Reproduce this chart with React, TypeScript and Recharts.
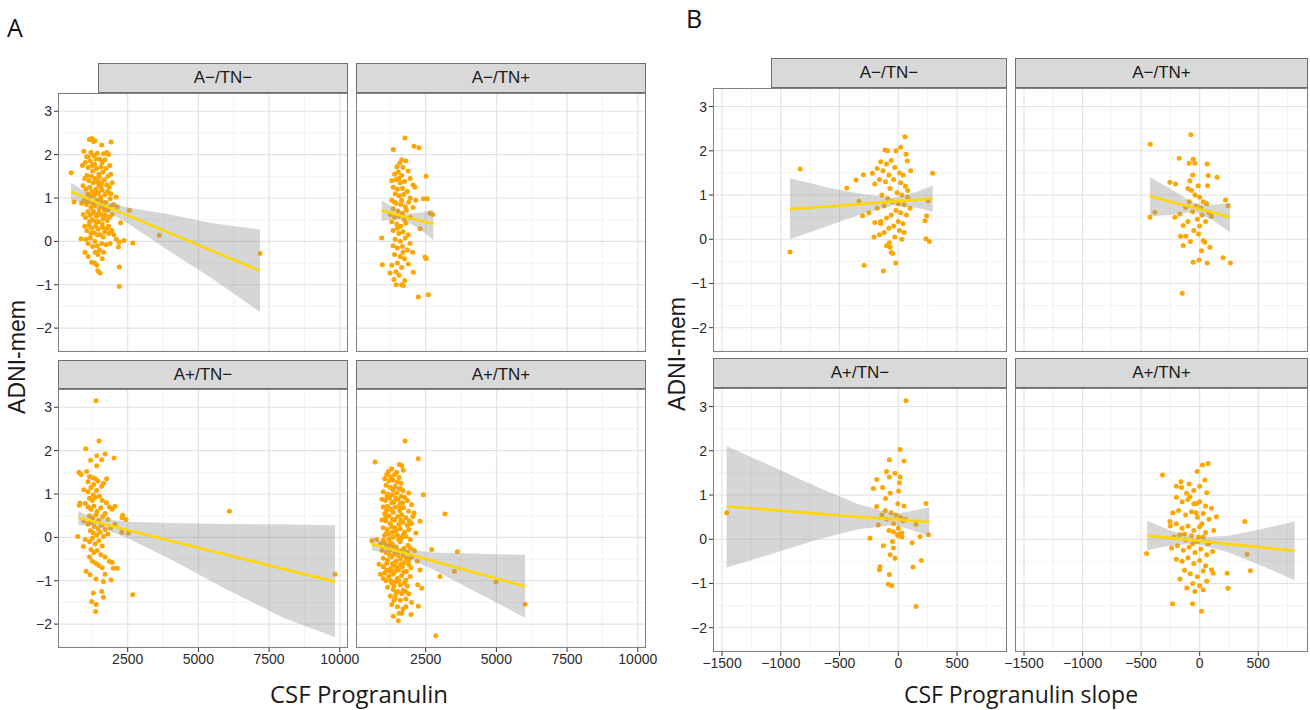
import { ComposedChart, Scatter, Area, Line, XAxis, YAxis, CartesianGrid } from 'recharts'

type Pt = [number, number]
// x, fitted value, lower and upper limit of the confidence band
type BandRow = [number, number, number, number]

const yTicks = [-2, -1, 0, 1, 2, 3]
const yMinor = [-2.5, -1.5, -0.5, 0.5, 1.5, 2.5]
const yDomain: [number, number] = [-2.55, 3.42]

const progTicks = [2500, 5000, 7500, 10000]
const progMinor = [1250, 3750, 6250, 8750]
const progDomain: [number, number] = [36, 10290]

const slopeTicks = [-1500, -1000, -500, 0, 500]
const slopeMinor = [-1250, -750, -250, 250, 750]
const slopeDomain: [number, number] = [-1577, 925]

const groups = ['A−/TN−', 'A−/TN+', 'A+/TN−', 'A+/TN+']

// ---- A: CSF progranulin ----
const progNN: Pt[] = [
  [1144, 2.35], [1240, 2.37], [1290, 2.3], [1345, 2.32], [1580, 2.22], [1910, 2.29], [950, 2.08], [1050, 1.95], [1200, 2.05],
  [1300, 1.98], [1420, 2.03], [1520, 1.9], [1650, 2.02], [1760, 2.05], [1820, 2.0], [1700, 1.88], [1870, 1.75],
  [500, 1.58], [900, 1.75], [1000, 1.82], [1100, 1.7], [1180, 1.85], [1260, 1.62], [1330, 1.78], [1400, 1.68], [1480, 1.55],
  [1560, 1.72], [1620, 1.6], [1730, 1.68], [1800, 1.5], [1900, 1.55], [980, 1.45], [1060, 1.52], [1130, 1.4], [1220, 1.5],
  [1280, 1.35], [1350, 1.45], [1440, 1.38], [1500, 1.48], [1590, 1.35], [1680, 1.42], [1760, 1.3], [1850, 1.25], [1950, 1.35],
  [600, 0.91], [920, 1.28], [1020, 1.2], [1090, 1.1], [1160, 1.25], [1240, 1.15], [1310, 1.05], [1380, 1.2], [1460, 1.12],
  [1540, 1.02], [1600, 1.18], [1700, 1.08], [1790, 1.15], [1880, 0.98], [2090, 1.02], [870, 0.88], [960, 0.95], [1040, 0.85],
  [1120, 0.92], [1200, 0.78], [1270, 0.88], [1340, 0.82], [1420, 0.95], [1490, 0.75], [1560, 0.86], [1640, 0.8], [1720, 0.9],
  [1800, 0.72], [1900, 0.8], [2000, 0.85], [2130, 0.8], [2560, 0.72], [930, 0.62], [1010, 0.55], [1090, 0.68], [1170, 0.6],
  [1250, 0.5], [1320, 0.65], [1400, 0.58], [1470, 0.45], [1550, 0.62], [1630, 0.52], [1710, 0.6], [1780, 0.48], [1860, 0.56],
  [1950, 0.62], [2250, 0.43], [980, 0.35], [1060, 0.25], [1140, 0.38], [1220, 0.3], [1300, 0.2], [1370, 0.35], [1450, 0.28],
  [1530, 0.15], [1610, 0.32], [1690, 0.22], [1770, 0.3], [1840, 0.18], [1940, 0.25], [2010, 0.15], [2100, 0.05], [2200, -0.02],
  [2370, 0.02], [2680, -0.04], [3620, 0.14], [850, 0.06], [1020, 0.05], [1100, -0.05], [1180, 0.08], [1260, -0.12], [1340, 0.0],
  [1420, -0.1], [1500, -0.2], [1580, -0.05], [1650, -0.25], [1740, -0.08], [1880, -0.05], [2170, -0.13], [990, -0.25],
  [1100, -0.35], [1227, -0.48], [1330, -0.5], [1404, -0.55], [1450, -0.3], [1522, -0.73], [1440, -0.68], [1600, -0.4],
  [2205, -0.59], [2205, -1.04], [7180, -0.28],
  [1100, 1.95], [1380, 1.9], [1600, 1.82], [1250, 1.75], [1480, 1.3], [1150, 1.05], [1360, 1.1], [1560, 0.95], [1280, 0.7],
  [1480, 0.65], [1680, 0.72], [1150, 0.45], [1380, 0.45], [1600, 0.4], [1200, 0.18], [1420, 0.15], [1640, 0.1], [1350, -0.25],
  [1560, 1.25], [1000, 0.95], [1900, 1.1], [1820, 0.35],
]
const progNP: Pt[] = [
  [1769, 2.38], [1357, 2.12], [2087, 2.19], [2264, 2.16], [1650, 1.88], [1800, 1.85], [1480, 1.72], [1580, 1.8], [1700, 1.7],
  [1880, 1.62], [1400, 1.55], [1530, 1.6], [1650, 1.52], [2512, 1.5], [1950, 1.45], [1300, 1.4], [1450, 1.42], [1600, 1.35],
  [1750, 1.38], [2050, 1.3], [1350, 1.25], [1500, 1.2], [1680, 1.22], [1850, 1.15], [2120, 1.25], [1420, 1.1], [1560, 1.05],
  [1720, 1.08], [1950, 1.0], [2418, 0.98], [2559, 0.98], [2150, 0.95], [1300, 0.95], [1460, 0.88], [1620, 0.85], [1780, 0.8],
  [1900, 0.9], [2050, 0.78], [1350, 0.75], [1520, 0.7], [1680, 0.65], [1820, 0.72], [1250, 0.62], [1400, 0.55], [1560, 0.58],
  [1740, 0.5], [1960, 0.55], [2748, 0.62], [2650, 0.65], [1300, 0.45], [1480, 0.4], [1620, 0.35], [1800, 0.42], [2300, 0.29],
  [1350, 0.25], [1550, 0.18], [1700, 0.22], [1880, 0.15], [944, 0.08], [1420, 0.05], [1600, 0.0], [1780, 0.08], [1950, -0.05],
  [1350, -0.1], [1500, -0.15], [1680, -0.12], [1850, -0.2], [2040, -0.25], [1400, -0.3], [1600, -0.35], [1750, -0.4],
  [2476, -0.36], [2520, -0.4], [968, -0.54], [1887, -0.52], [1300, -0.55], [1500, -0.5], [1650, -0.6], [1239, -0.73],
  [1560, -0.78], [2063, -0.71], [1380, -0.88], [1710, -1.02], [1760, -0.9], [1650, -1.0], [2240, -1.28], [2594, -1.23],
  [1460, -1.0], [1550, 1.45], [1400, 0.9], [1650, 0.95], [1500, 0.3], [1700, -0.25], [1450, -0.7],
]
const progPN: Pt[] = [
  [1380, 3.15], [1486, 2.22], [1015, 2.04], [1404, 1.88], [1698, 1.92], [1580, 1.79], [1191, 1.78], [2017, 1.83], [1404, 1.65],
  [779, 1.5], [850, 1.45], [1050, 1.52], [1150, 1.4], [1250, 1.38], [1350, 1.35], [1757, 1.35], [1100, 1.28], [1300, 1.22],
  [1450, 1.3], [1580, 1.18], [1650, 1.25], [950, 1.1], [1100, 1.05], [1200, 1.15], [1280, 0.98], [1400, 1.08], [1500, 0.95],
  [1150, 0.9], [1250, 0.85], [1350, 0.92], [1600, 0.85], [1750, 0.8], [1000, 0.78], [814, 0.79], [790, 0.74], [1100, 0.7],
  [1200, 0.65], [1300, 0.72], [1420, 0.6], [1550, 0.68], [1700, 0.55], [1850, 0.7], [2052, 0.72], [1950, 0.65], [1150, 0.5],
  [1260, 0.45], [1380, 0.52], [1480, 0.4], [1620, 0.48], [1800, 0.42], [2323, 0.51], [2441, 0.41], [2300, 0.45], [950, 0.38],
  [1100, 0.3], [1220, 0.35], [1320, 0.25], [1450, 0.2], [1580, 0.28], [1700, 0.18], [1900, 0.22], [2050, 0.3], [1180, 0.15],
  [1280, 0.1], [1400, 0.05], [1520, 0.12], [1650, 0.02], [1800, 0.08], [2288, 0.12], [2523, 0.1], [732, 0.02], [1000, -0.05],
  [1150, -0.1], [1250, -0.02], [1350, -0.15], [1480, -0.08], [1600, -0.2], [932, -0.21], [1200, -0.28], [1300, -0.35],
  [1420, -0.3], [1550, -0.4], [1700, -0.45], [1850, -0.55], [1950, -0.58], [1150, -0.45], [1250, -0.55], [1380, -0.6],
  [1480, -0.65], [1600, -0.7], [1993, -0.71], [2134, -0.71], [1027, -0.78], [1168, -0.86], [1380, -0.96], [1640, -1.02],
  [1910, -0.98], [1700, -0.85], [1286, -1.28], [1580, -1.25], [1640, -1.38], [1227, -1.48], [1380, -1.55], [1368, -1.71],
  [2677, -1.32], [6096, 0.6], [9834, -0.85],
]
const progPP: Pt[] = [
  [1769, 2.22], [2240, 1.81], [708, 1.74], [1569, 1.68], [1651, 1.65], [1180, 1.52], [1475, 1.5], [1710, 1.55], [1300, 1.58],
  [1400, 1.45], [1050, 1.35], [1200, 1.3], [1350, 1.32], [1500, 1.28], [1620, 1.25], [1100, 1.2], [1250, 1.15], [1420, 1.18],
  [1560, 1.12], [1700, 1.08], [1900, 1.02], [2418, 0.98], [1000, 1.05], [1150, 1.0], [1320, 0.98], [1480, 1.02], [1640, 0.95],
  [950, 0.88], [1080, 0.85], [1220, 0.9], [1380, 0.82], [1520, 0.88], [1680, 0.8], [1850, 0.85], [2000, 0.75], [1000, 0.7],
  [1150, 0.72], [1280, 0.65], [1420, 0.7], [1580, 0.62], [1720, 0.68], [1900, 0.6], [2087, 0.56], [3184, 0.54], [1050, 0.55],
  [1200, 0.5], [1350, 0.58], [1500, 0.48], [1650, 0.52], [1800, 0.45], [2050, 0.48], [2300, 0.37], [950, 0.4], [1100, 0.38],
  [1250, 0.32], [1400, 0.4], [1550, 0.3], [1700, 0.35], [1850, 0.28], [2000, 0.32], [1000, 0.22], [1150, 0.18], [1300, 0.25],
  [1450, 0.15], [1600, 0.2], [1750, 0.12], [1900, 0.18], [2150, 0.1], [1050, 0.05], [1200, 0.08], [1350, 0.0], [1500, 0.05],
  [1650, -0.02], [1800, 0.02], [1950, -0.05], [590, -0.08], [767, -0.05], [1003, -0.06], [1200, -0.04], [900, -0.15],
  [1050, -0.12], [1180, -0.2], [1320, -0.15], [1460, -0.22], [1600, -0.1], [1740, -0.25], [1880, -0.18], [2100, -0.3],
  [2712, -0.28], [3620, -0.33], [950, -0.3], [1100, -0.35], [1250, -0.28], [1400, -0.38], [1550, -0.32], [1700, -0.42],
  [1850, -0.35], [2000, -0.45], [1000, -0.48], [1150, -0.52], [1300, -0.45], [1450, -0.55], [1600, -0.5], [1750, -0.58],
  [1900, -0.52], [2200, -0.55], [850, -0.62], [1000, -0.68], [1120, -0.6], [1260, -0.72], [1400, -0.65], [1540, -0.75],
  [1680, -0.68], [1820, -0.78], [1980, -0.7], [2300, -0.75], [3514, -0.78], [900, -0.85], [1050, -0.82], [1200, -0.9],
  [1350, -0.85], [1500, -0.95], [1650, -0.88], [1800, -0.98], [1950, -0.9], [3007, -0.9], [1100, -1.0], [1300, -1.05],
  [1450, -1.02], [1600, -1.1], [1750, -1.05], [2217, -1.09], [4988, -1.03], [1150, -1.15], [1350, -1.2], [1500, -1.25],
  [1700, -1.22], [1900, -1.3], [2358, -1.17], [1250, -1.35], [1420, -1.4], [1600, -1.45], [1800, -1.42], [2000, -1.5],
  [1300, -1.55], [1500, -1.6], [1700, -1.65], [2240, -1.59], [6014, -1.54], [1357, -1.82], [1533, -1.92], [1981, -1.78],
  [1650, -1.75], [2854, -2.27], [1120, 0.62], [1330, 0.12], [1480, -0.7], [1270, -1.0], [1560, 0.72], [1780, -1.25],
  [1120, 1.45], [1260, 1.4], [1560, 1.38], [1350, 1.1], [1620, 1.12], [1130, 0.95], [1450, 0.9], [1760, 0.92], [1300, 0.8],
  [1600, 0.78], [1080, 0.45], [1330, 0.42], [1620, 0.4], [1920, 0.38], [1120, 0.1], [1400, 0.22], [1700, 0.05], [1100, -0.22],
  [1380, -0.22], [1660, -0.3], [1960, -0.25], [1220, -0.4], [1520, -0.42], [1820, -0.48], [1120, -0.75], [1330, -0.6],
  [1610, -0.62], [1900, -0.62], [1000, -0.95], [1250, -0.78], [1420, -0.78], [1720, -0.8], [1380, -1.12], [1550, -1.0],
  [1850, -1.12], [1450, -1.3], [1650, -1.3], [1380, -1.45], [1560, -1.75], [1800, -1.6], [1250, -0.12], [1540, -0.05],
]

const progBandNN: BandRow[] = [
  [496, 1.15, 0.95, 1.35], [1400, 0.9, 0.82, 0.98], [2500, 0.6, 0.42, 0.78], [4000, 0.19, -0.24, 0.62],
  [5500, -0.22, -0.86, 0.42], [7180, -0.68, -1.63, 0.27],
]
const progBandNP: BandRow[] = [
  [944, 0.71, 0.47, 0.95], [1350, 0.64, 0.52, 0.78], [1770, 0.56, 0.48, 0.64], [2300, 0.48, 0.28, 0.66], [2770, 0.4, 0.04, 0.73],
]
const progBandPN: BandRow[] = [
  [755, 0.45, 0.28, 0.6], [1400, 0.35, 0.26, 0.44], [2500, 0.17, -0.02, 0.36], [4000, -0.08, -0.5, 0.33],
  [6000, -0.4, -1.2, 0.31], [8000, -0.73, -1.85, 0.3], [9834, -1.02, -2.3, 0.28],
]
const progBandPP: BandRow[] = [
  [590, -0.15, -0.3, 0.01], [1600, -0.33, -0.4, -0.26], [2800, -0.55, -0.75, -0.35], [4400, -0.84, -1.3, -0.38],
  [6014, -1.13, -1.85, -0.4],
]

// ---- B: CSF progranulin slope ----
const slopeNN: Pt[] = [
  [-922, -0.29], [-836, 1.59], [-439, 1.16], [-360, 1.34], [-297, 1.46], [-221, 1.49], [-334, 0.86], [-303, 0.53], [-291, -0.59],
  [-207, 0.05], [-127, -0.72], [-48, -0.32], [-22, -0.54], [56, 2.32], [19, 2.08], [-20, 2.0], [-113, 2.02], [-90, 2.0],
  [65, 1.92], [76, 1.77], [105, 1.55], [292, 1.49], [235, 0.01], [264, -0.05], [241, 0.53], [227, 0.42], [255, 0.87],
  [-76, -0.08], [-70, -0.18], [-150, 1.75], [-100, 1.7], [-60, 1.78], [-30, 1.62], [10, 1.5], [40, 1.45], [-130, 1.55],
  [-180, 1.6], [-80, 1.45], [-160, 1.35], [-110, 1.3], [-40, 1.35], [20, 1.28], [60, 1.2], [-200, 1.25], [-70, 1.15],
  [-10, 1.05], [30, 1.0], [80, 0.95], [-140, 1.0], [-90, 0.92], [-50, 0.85], [0, 0.8], [50, 0.78], [-180, 0.7], [-120, 0.75],
  [-20, 0.65], [20, 0.6], [70, 0.55], [-60, 0.55], [-100, 0.48], [-150, 0.4], [-200, 0.38], [0, 0.4], [40, 0.35], [-40, 0.3],
  [-80, 0.25], [10, 0.2], [50, 0.15], [-120, 0.15], [-160, 0.1], [-30, 0.05], [30, 0.0], [-100, -0.15], [-60, -0.3],
  [-150, 0.35], [100, 0.7], [80, 1.1], [-250, 0.6],
]
const slopeNP: Pt[] = [
  [-76, 2.36], [-422, 2.15], [-175, 1.83], [-56, 1.81], [-90, 1.72], [-40, 1.72], [64, 1.7], [73, 1.44], [149, 1.4], [-254, 1.29],
  [-206, 1.25], [-84, 1.32], [-70, 1.1], [-13, 1.21], [67, 1.21], [220, 0.89], [243, 0.76], [-425, 0.5], [-382, 0.61],
  [-212, 0.5], [-170, 0.57], [-141, 0.31], [-164, 0.07], [-118, 0.07], [-141, -0.14], [-79, -0.05], [30, -0.03], [44, -0.07],
  [87, -0.18], [16, -0.26], [-56, -0.52], [-5, -0.47], [64, -0.54], [200, -0.42], [262, -0.54], [-149, -1.22], [-40, 1.0],
  [0, 0.95], [30, 0.85], [-90, 0.85], [-30, 0.75], [10, 0.7], [60, 0.8], [-120, 0.72], [-60, 0.62], [20, 0.55], [80, 0.6],
  [-20, 0.45], [50, 0.4], [-100, 0.4], [0, 0.3], [-50, 0.2], [100, 0.52], [-10, 0.12], [-60, 1.45], [-100, 1.15],
]
const slopePN: Pt[] = [
  [-1461, 0.6], [66, 3.13], [15, 2.03], [49, 1.77], [-76, 1.8], [-184, 1.35], [-100, 1.53], [-76, 1.41], [-28, 1.49], [15, 1.41],
  [9, 1.28], [-133, 1.17], [-213, 1.15], [-70, 1.04], [3, 1.09], [-109, 0.92], [-5, 0.8], [49, 0.75], [236, 0.81], [-184, 0.74],
  [151, 0.34], [185, 0.06], [256, 0.1], [117, -0.08], [-70, -0.35], [-42, -0.2], [-127, -0.15], [-241, 0.02], [-170, 0.32],
  [-156, -0.62], [125, -0.63], [196, -0.48], [-161, -0.69], [-76, -0.8], [-85, -1.02], [-56, -1.05], [151, -1.52], [-28, -0.43],
  [29, 0.14], [0, 0.08], [-42, 0.17], [-60, 0.6], [-20, 0.55], [20, 0.5], [-100, 0.45], [40, 0.42], [-40, 0.35], [0, 0.25],
  [60, 0.45], [-140, 0.55], [-80, 0.2], [30, 0.05], [-10, 0.1], [-50, -0.05], [10, 0.12], [-110, 0.65],
]
const slopePP: Pt[] = [
  [-317, 1.45], [24, 1.68], [73, 1.71], [-21, 1.53], [44, 1.34], [-155, 1.17], [-112, 1.04], [-84, 0.96], [-27, 0.81],
  [143, 0.51], [-254, 0.4], [385, 0.4], [-453, -0.32], [405, -0.34], [433, -0.71], [234, -0.77], [242, -1.11], [-232, -1.46],
  [-61, -1.46], [16, -1.63], [30, -1.14], [-41, -1.18], [-169, -0.9], [101, -0.69], [115, -0.77], [-200, 0.95], [-150, 0.85],
  [-100, 0.9], [-50, 0.8], [0, 0.85], [50, 0.75], [100, 0.7], [-230, 0.6], [-180, 0.65], [-120, 0.55], [-70, 0.62],
  [-20, 0.5], [30, 0.58], [80, 0.45], [-250, 0.3], [-200, 0.35], [-150, 0.25], [-100, 0.3], [-50, 0.2], [0, 0.28], [50, 0.15],
  [120, 0.2], [-220, 0.05], [-170, 0.1], [-120, -0.02], [-70, 0.08], [-20, -0.05], [30, 0.05], [80, -0.08], [-240, -0.2],
  [-190, -0.15], [-140, -0.25], [-90, -0.18], [-40, -0.3], [10, -0.22], [60, -0.35], [110, -0.28], [-200, -0.45],
  [-150, -0.5], [-100, -0.42], [-50, -0.55], [0, -0.48], [50, -0.6], [-130, -0.7], [-80, -0.78], [-20, -0.85], [30, -0.72],
  [-60, -1.0], [0, -1.05], [-110, -1.1], [60, -0.95], [-160, 1.3], [-90, 1.25], [-50, 1.1], [0, 1.2], [60, 1.05],
  [-200, 1.2], [-10, 0.05], [-60, -0.1], [20, 0.35], [-130, 0.12], [-30, 0.6], [70, -0.1],
]

const slopeBandNN: BandRow[] = [
  [-922, 0.68, 0.0, 1.38], [-600, 0.74, 0.3, 1.17], [-300, 0.8, 0.58, 1.02], [-50, 0.85, 0.76, 0.94],
  [150, 0.89, 0.72, 1.07], [292, 0.92, 0.62, 1.21],
]
const slopeBandNP: BandRow[] = [
  [-425, 0.97, 0.52, 1.4], [-250, 0.85, 0.55, 1.14], [-40, 0.71, 0.62, 0.8], [120, 0.6, 0.42, 0.78], [257, 0.5, 0.16, 0.82],
]
const slopeBandPN: BandRow[] = [
  [-1461, 0.74, -0.64, 2.1], [-1100, 0.67, -0.35, 1.68], [-700, 0.58, -0.02, 1.19], [-350, 0.51, 0.22, 0.8],
  [-30, 0.45, 0.33, 0.57], [264, 0.39, 0.08, 0.72],
]
const slopeBandPP: BandRow[] = [
  [-448, 0.08, -0.25, 0.41], [-250, 0.03, -0.14, 0.2], [-30, -0.03, -0.1, 0.04], [250, -0.11, -0.3, 0.08],
  [550, -0.19, -0.62, 0.24], [811, -0.26, -0.93, 0.4],
]

interface Box { x: number; y: number; w: number; h: number }

interface FacetProps {
  panel: Box
  strip: Box
  label: string
  domain: [number, number]
  ticks: number[]
  minor: number[]
  points: Pt[]
  band: BandRow[]
  showX?: boolean
  showY?: boolean
  padL?: number
  padR?: number
}

const tickFont = { fontSize: 14, fill: '#2b2b2b', fontFamily: '"Liberation Sans", Arial, sans-serif' }
const minus = (v: number) => String(v).replace('-', '−')

function Dot(props: any) {
  return <circle cx={props.cx} cy={props.cy} r={2.5} fill="#FFA500" />
}

function Facet({ panel, strip, label, domain, ticks, minor, points, band, showX, showY, padL = 0, padR = 0 }: FacetProps) {
  const yW = showY ? 30 : 0
  const xH = showX ? 24 : 0
  const rows = band.map(([x, fit, lo, hi]) => ({ x, fit, ci: [lo, hi] }))
  const pts = points.map(([x, y]) => ({ x, y }))
  return (
    <>
      <div
        style={{
          position: 'absolute',
          left: strip.x,
          top: strip.y,
          width: strip.w,
          height: strip.h,
          background: '#d9d9d9',
          border: '1px solid #707070',
          boxSizing: 'border-box',
          display: 'flex',
          alignItems: 'center',
          justifyContent: 'center',
          fontFamily: '"Liberation Sans", Arial, sans-serif',
          fontSize: 17,
          color: '#1a1a1a',
        }}
      >
        {label}
      </div>
      <div style={{ position: 'absolute', left: panel.x - yW - padL, top: panel.y }}>
        <ComposedChart
          width={panel.w + yW + padL + padR}
          height={panel.h + xH}
          data={rows}
          margin={{ top: 0, right: padR, bottom: 0, left: padL }}
        >
          <CartesianGrid horizontalValues={yMinor} verticalValues={minor} stroke="#f0f0f0" strokeWidth={0.8} />
          <CartesianGrid horizontalValues={yTicks} verticalValues={ticks} stroke="#e2e2e2" strokeWidth={1.1} />
          <XAxis
            type="number"
            dataKey="x"
            domain={domain}
            ticks={ticks}
            allowDataOverflow
            interval={0}
            hide={!showX}
            height={xH}
            axisLine={false}
            tickSize={4}
            tickMargin={2}
            tickLine={{ stroke: '#333' }}
            tick={tickFont}
            tickFormatter={minus}
          />
          <YAxis
            type="number"
            dataKey="y"
            domain={yDomain}
            ticks={yTicks}
            allowDataOverflow
            interval={0}
            hide={!showY}
            width={yW}
            axisLine={false}
            tickSize={4}
            tickMargin={2}
            tickLine={{ stroke: '#333' }}
            tick={tickFont}
            tickFormatter={minus}
          />
          <Scatter data={pts} shape={Dot} isAnimationActive={false} zIndex={50} />
          <Area dataKey="ci" type="linear" fill="#999999" fillOpacity={0.4} stroke="none" isAnimationActive={false} />
          <Line dataKey="fit" type="linear" stroke="#FFD700" strokeWidth={2.6} dot={false} isAnimationActive={false} />
        </ComposedChart>
      </div>
      <div
        style={{
          position: 'absolute',
          left: panel.x,
          top: panel.y,
          width: panel.w,
          height: panel.h,
          border: '1px solid #808080',
          boxSizing: 'border-box',
          pointerEvents: 'none',
        }}
      />
    </>
  )
}

const titleFont = '"Open Sans", "Noto Sans", sans-serif'

export default function App() {
  return (
    <div
      style={{
        position: 'absolute',
        left: 0,
        top: 0,
        width: 1310,
        height: 710,
        background: '#fff',
        overflow: 'hidden',
      }}
    >
      <div style={{ position: 'absolute', left: 7, top: 10, fontFamily: titleFont, fontSize: 25, color: '#111' }}>A</div>
      <div style={{ position: 'absolute', left: 686, top: 1, fontFamily: titleFont, fontSize: 25, color: '#111' }}>B</div>

      {/* Panel A */}
      <Facet panel={{ x: 58, y: 93, w: 290, h: 259 }} strip={{ x: 98, y: 63, w: 250, h: 30 }} label={groups[0]}
        domain={progDomain} ticks={progTicks} minor={progMinor} points={progNN} band={progBandNN} showY />
      <Facet panel={{ x: 356, y: 93, w: 290, h: 259 }} strip={{ x: 356, y: 63, w: 290, h: 30 }} label={groups[1]}
        domain={progDomain} ticks={progTicks} minor={progMinor} points={progNP} band={progBandNP} />
      <Facet panel={{ x: 58, y: 389, w: 290, h: 259 }} strip={{ x: 58, y: 360, w: 290, h: 29 }} label={groups[2]}
        domain={progDomain} ticks={progTicks} minor={progMinor} points={progPN} band={progBandPN} showX showY padR={14} />
      <Facet panel={{ x: 356, y: 389, w: 290, h: 259 }} strip={{ x: 356, y: 360, w: 290, h: 29 }} label={groups[3]}
        domain={progDomain} ticks={progTicks} minor={progMinor} points={progPP} band={progBandPP} showX padR={14} />

      {/* Panel B */}
      <Facet panel={{ x: 713, y: 88, w: 294, h: 264 }} strip={{ x: 771, y: 58, w: 236, h: 30 }} label={groups[0]}
        domain={slopeDomain} ticks={slopeTicks} minor={slopeMinor} points={slopeNN} band={slopeBandNN} showY />
      <Facet panel={{ x: 1015, y: 88, w: 293, h: 264 }} strip={{ x: 1015, y: 58, w: 293, h: 30 }} label={groups[1]}
        domain={slopeDomain} ticks={slopeTicks} minor={slopeMinor} points={slopeNP} band={slopeBandNP} />
      <Facet panel={{ x: 713, y: 388, w: 294, h: 264 }} strip={{ x: 713, y: 358, w: 294, h: 30 }} label={groups[2]}
        domain={slopeDomain} ticks={slopeTicks} minor={slopeMinor} points={slopePN} band={slopeBandPN} showX showY />
      <Facet panel={{ x: 1015, y: 388, w: 293, h: 264 }} strip={{ x: 1015, y: 358, w: 293, h: 30 }} label={groups[3]}
        domain={slopeDomain} ticks={slopeTicks} minor={slopeMinor} points={slopePP} band={slopeBandPP} showX padL={16} />

      <div
        style={{
          position: 'absolute',
          left: 17 - 80,
          top: 357 - 14,
          width: 160,
          height: 28,
          lineHeight: '28px',
          textAlign: 'center',
          transform: 'rotate(-90deg)',
          fontFamily: '"Liberation Sans", Arial, sans-serif',
          fontSize: 23,
          color: '#1a1a1a',
        }}
      >
        ADNI-mem
      </div>
      <div
        style={{
          position: 'absolute',
          left: 677 - 80,
          top: 354 - 14,
          width: 160,
          height: 28,
          lineHeight: '28px',
          textAlign: 'center',
          transform: 'rotate(-90deg)',
          fontFamily: '"Liberation Sans", Arial, sans-serif',
          fontSize: 23,
          color: '#1a1a1a',
        }}
      >
        ADNI-mem
      </div>
      <div
        style={{
          position: 'absolute',
          left: 359 - 150,
          top: 679,
          width: 300,
          lineHeight: '30px',
          textAlign: 'center',
          fontFamily: titleFont,
          fontSize: 24,
          color: '#1a1a1a',
        }}
      >
        CSF Progranulin
      </div>
      <div
        style={{
          position: 'absolute',
          left: 1021 - 150,
          top: 679,
          width: 300,
          lineHeight: '30px',
          textAlign: 'center',
          fontFamily: titleFont,
          fontSize: 23,
          color: '#1a1a1a',
        }}
      >
        CSF Progranulin slope
      </div>
    </div>
  )
}
